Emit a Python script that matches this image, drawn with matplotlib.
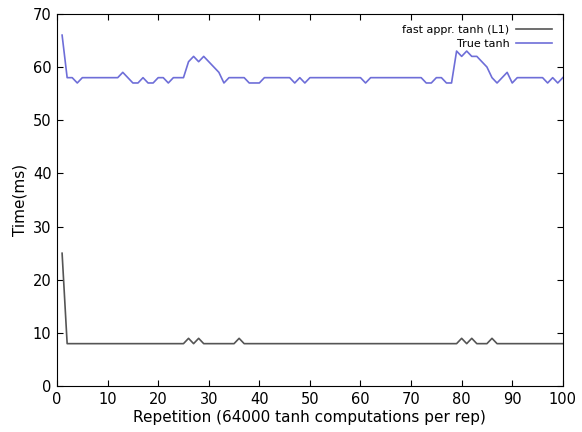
import matplotlib
matplotlib.use('Agg')
import matplotlib.pyplot as plt
import numpy as np

# repetition index
reps = np.arange(1, 101)

# fast approximate tanh (L1), ms
fast_tanh = [25] + [8] * 99
for r in [26, 28, 36, 80, 82, 86]:
    fast_tanh[r - 1] = 9

# true tanh, ms
true_tanh = [66, 58, 58, 57, 58, 58, 58, 58, 58, 58,
             58, 58, 59, 58, 57, 57, 58, 57, 57, 58,
             58, 57, 58, 58, 58, 61, 62, 61, 62, 61,
             60, 59, 57, 58, 58, 58, 58, 57, 57, 57,
             58, 58, 58, 58, 58, 58, 57, 58, 57, 58,
             58, 58, 58, 58, 58, 58, 58, 58, 58, 58,
             57, 58, 58, 58, 58, 58, 58, 58, 58, 58,
             58, 58, 57, 57, 58, 58, 57, 57, 63, 62,
             63, 62, 62, 61, 60, 58, 57, 58, 59, 57,
             58, 58, 58, 58, 58, 58, 57, 58, 57, 58]

fig = plt.figure(figsize=(5.82, 4.32), dpi=100)
ax = fig.add_axes([0.098, 0.106, 0.869, 0.862])

ax.plot(reps, fast_tanh, color='#555555', lw=1.2, label='fast appr. tanh (L1)')
ax.plot(reps, true_tanh, color='#6e6ed8', lw=1.2, label='True tanh')

ax.set_xlim(0, 100)
ax.set_ylim(0, 70)
ax.set_xticks(range(0, 101, 10))
ax.set_yticks(range(0, 71, 10))
ax.tick_params(direction='in', top=True, right=True, labelsize=10.5, length=4, pad=4)
ax.set_xlabel('Repetition (64000 tanh computations per rep)', fontsize=11, labelpad=2)
ax.set_ylabel('Time(ms)', fontsize=11)

ax.legend(loc='upper right', frameon=False, markerfirst=False, fontsize=8,
          handlelength=3.2, borderaxespad=0.6, labelspacing=0.35, handletextpad=0.6)

fig.savefig('out.png', dpi=100)
